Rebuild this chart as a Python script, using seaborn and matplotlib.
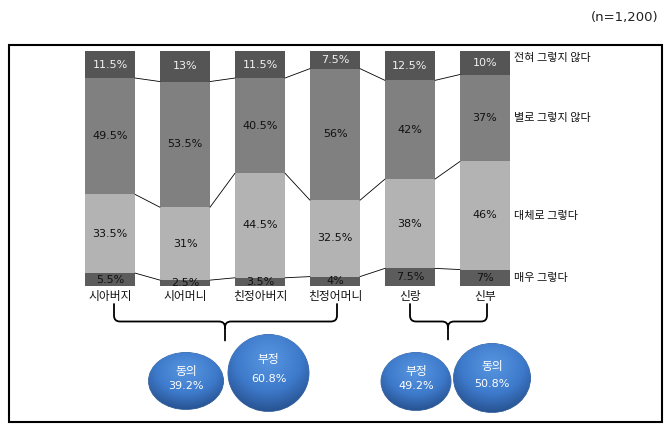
import numpy as np
import pandas as pd
import matplotlib
matplotlib.use("Agg")
import matplotlib.pyplot as plt
import seaborn as sns
from matplotlib.patches import Ellipse, Rectangle, PathPatch
from matplotlib.path import Path
from matplotlib.colors import to_rgb

# ---------------- data ----------------
categories = ["시아버지", "시어머니", "친정아버지", "친정어머니", "신랑", "신부"]
levels = ["매우 그렇다", "대체로 그렇다", "별로 그렇지 않다", "전혀 그렇지 않다"]
very_agree = [5.5, 2.5, 3.5, 4, 7.5, 7]
mostly_agree = [33.5, 31, 44.5, 32.5, 38, 46]
mostly_disagree = [49.5, 53.5, 40.5, 56, 42, 37]
strongly_disagree = [11.5, 13, 11.5, 7.5, 12.5, 10]
summary_names = ["동의", "부정", "부정", "동의"]
summary_values = [39.2, 60.8, 49.2, 50.8]
sample_note = "(n=1,200)"

# ---------------- style ----------------
sns.set_theme(style="white")
plt.rcParams['font.family'] = ['Noto Sans CJK KR', 'DejaVu Sans']
NUM_FONT = ["DejaVu Sans"]

seg_colors = ["#5c5c5c", "#b3b3b3", "#808080", "#555555"]
text_colors = ["#111111", "#111111", "#111111", "#f2f2f2"]

W, H = 670, 432
fig = plt.figure(figsize=(W / 100, H / 100), dpi=100)
fig.patch.set_facecolor("white")

ax = fig.add_axes([72.5 / W, (H - 286) / H, 450 / W, 235 / H])

df = pd.DataFrame({
    "category": categories,
    levels[0]: very_agree,
    levels[1]: mostly_agree,
    levels[2]: mostly_disagree,
    levels[3]: strongly_disagree,
})
cum = df[levels].cumsum(axis=1)
bottoms = cum.shift(1, axis=1).fillna(0)
cum_df = cum.assign(category=df["category"])

bar_w = 50 / 75
for lvl_idx in reversed(range(len(levels))):
    lvl = levels[lvl_idx]
    sns.barplot(data=cum_df, x="category", y=lvl,
                color=seg_colors[lvl_idx], saturation=1, width=bar_w,
                errorbar=None, edgecolor="none", linewidth=0, ax=ax)

# connecting lines between adjacent bars
for lvl in levels[:3]:
    vals = cum[lvl].values
    for i in range(len(categories) - 1):
        ax.plot([i + bar_w / 2, i + 1 - bar_w / 2], [vals[i], vals[i + 1]],
                color="black", lw=0.6, zorder=3)

# segment labels
for lvl_idx, lvl in enumerate(levels):
    for i in range(len(categories)):
        v = df[lvl].iloc[i]
        yc = bottoms[lvl].iloc[i] + v / 2
        ax.text(i, yc, f"{v:g}%", ha="center", va="center", fontsize=8,
                color=text_colors[lvl_idx], zorder=4, family=NUM_FONT)

# level labels on the right, next to last bar
last = len(categories) - 1
for lvl_idx, lvl in enumerate(levels):
    v = df[lvl].iloc[last]
    yc = bottoms[lvl].iloc[last] + v / 2
    if lvl_idx == 3:
        yc += 2
    ax.text(last + bar_w / 2 + 0.05, yc, lvl, ha="left", va="center",
            fontsize=8, color="#111111", clip_on=False)

ax.set_xlim(-0.5, len(categories) - 0.5)
ax.set_ylim(0, 100)
ax.set_xlabel("")
ax.set_ylabel("")
ax.set_yticks([])
ax.tick_params(axis="x", length=0, pad=3, labelsize=8.5, colors="#111111")
for s in ax.spines.values():
    s.set_visible(False)
ax.patch.set_alpha(0)

# ---------------- overlay: frame, braces, bubbles ----------------
ov = fig.add_axes([0, 0, 1, 1])
ov.set_xlim(0, W)
ov.set_ylim(H, 0)
ov.axis("off")

ov.add_patch(Rectangle((9, 45), 653, 377, fill=False, edgecolor="black", lw=1.5))
ov.text(658, 17, sample_note, ha="right", va="center", fontsize=9.5,
        color="#222222", family=NUM_FONT)


def brace(x0, x1, xt, ytop, ymid, ybot):
    r = 6
    verts = [(x0, ytop), (x0, ymid - r), (x0, ymid), (x0 + r, ymid),
             (xt - r, ymid), (xt, ymid), (xt, ymid + r), (xt, ybot),
             (xt, ymid + r), (xt, ymid), (xt + r, ymid),
             (x1 - r, ymid), (x1, ymid), (x1, ymid - r), (x1, ytop)]
    codes = [Path.MOVETO, Path.LINETO, Path.CURVE3, Path.CURVE3,
             Path.LINETO, Path.CURVE3, Path.CURVE3, Path.LINETO,
             Path.MOVETO, Path.CURVE3, Path.CURVE3,
             Path.LINETO, Path.CURVE3, Path.CURVE3, Path.LINETO]
    ov.add_patch(PathPatch(Path(verts, codes), fill=False, edgecolor="black",
                           lw=1.3, capstyle="round"))


brace(114, 337, 225, 304, 321.5, 340.5)
brace(410, 487, 448, 304, 321.5, 339.5)

bubbles = [(186, 381, 75, 57), (268.5, 373, 81, 77),
           (416, 381.5, 70, 58), (492, 378, 77, 69)]

light = np.array(to_rgb("#5896e0"))
mid = np.array(to_rgb("#3e7acb"))
dark = np.array(to_rgb("#285493"))


def bubble(cx, cy, w, h):
    n = 200
    u, v = np.meshgrid(np.linspace(-1, 1, n), np.linspace(-1, 1, n))
    d = np.sqrt(u ** 2 + (v + 0.35) ** 2) / 1.35
    d = np.clip(d, 0, 1)
    t1 = np.clip(d / 0.6, 0, 1)[..., None]
    t2 = np.clip((d - 0.6) / 0.4, 0, 1)[..., None]
    col = light * (1 - t1) + mid * t1
    col = col * (1 - t2) + dark * t2
    img = np.dstack([col, np.ones((n, n))])
    el = Ellipse((cx, cy), w, h, facecolor="none", edgecolor="#2b5a98", lw=0.6)
    ov.add_patch(el)
    im = ov.imshow(img, extent=(cx - w / 2, cx + w / 2, cy + h / 2, cy - h / 2),
                   origin="upper", interpolation="bilinear", zorder=1)
    im.set_clip_path(el)
    ov.set_xlim(0, W)
    ov.set_ylim(H, 0)


for (cx, cy, w, h), name, val in zip(bubbles, summary_names, summary_values):
    bubble(cx, cy, w, h)
    ov.text(cx, cy - 0.17 * h, name, ha="center", va="center", fontsize=8.5,
            color="white", zorder=3)
    ov.text(cx, cy + 0.08 * h, f"{val:.1f}%", ha="center", va="center",
            fontsize=8, color="white", zorder=3, family=NUM_FONT)

ov.set_aspect("auto")
fig.savefig("out.png", dpi=100)
